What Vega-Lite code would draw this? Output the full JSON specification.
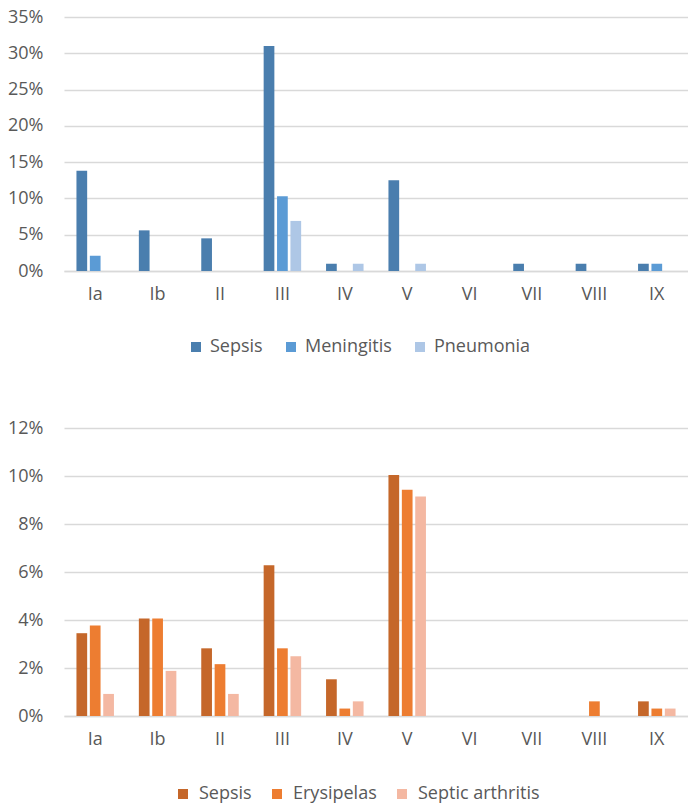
{
  "$schema": "https://vega.github.io/schema/vega-lite/v6.json",
  "background": "white",
  "padding": {"left": 7, "top": 8, "right": 0, "bottom": 0},
  "spacing": 63,
  "datasets": {
    "invasive": [
      {"serotype": "Ia", "disease": "Sepsis", "pct": 13.8},
      {"serotype": "Ia", "disease": "Meningitis", "pct": 2.1},
      {"serotype": "Ia", "disease": "Pneumonia", "pct": 0},
      {"serotype": "Ib", "disease": "Sepsis", "pct": 5.6},
      {"serotype": "Ib", "disease": "Meningitis", "pct": 0},
      {"serotype": "Ib", "disease": "Pneumonia", "pct": 0},
      {"serotype": "II", "disease": "Sepsis", "pct": 4.5},
      {"serotype": "II", "disease": "Meningitis", "pct": 0},
      {"serotype": "II", "disease": "Pneumonia", "pct": 0},
      {"serotype": "III", "disease": "Sepsis", "pct": 31.0},
      {"serotype": "III", "disease": "Meningitis", "pct": 10.3},
      {"serotype": "III", "disease": "Pneumonia", "pct": 6.9},
      {"serotype": "IV", "disease": "Sepsis", "pct": 1.0},
      {"serotype": "IV", "disease": "Meningitis", "pct": 0},
      {"serotype": "IV", "disease": "Pneumonia", "pct": 1.0},
      {"serotype": "V", "disease": "Sepsis", "pct": 12.5},
      {"serotype": "V", "disease": "Meningitis", "pct": 0},
      {"serotype": "V", "disease": "Pneumonia", "pct": 1.0},
      {"serotype": "VI", "disease": "Sepsis", "pct": 0},
      {"serotype": "VI", "disease": "Meningitis", "pct": 0},
      {"serotype": "VI", "disease": "Pneumonia", "pct": 0},
      {"serotype": "VII", "disease": "Sepsis", "pct": 1.0},
      {"serotype": "VII", "disease": "Meningitis", "pct": 0},
      {"serotype": "VII", "disease": "Pneumonia", "pct": 0},
      {"serotype": "VIII", "disease": "Sepsis", "pct": 1.0},
      {"serotype": "VIII", "disease": "Meningitis", "pct": 0},
      {"serotype": "VIII", "disease": "Pneumonia", "pct": 0},
      {"serotype": "IX", "disease": "Sepsis", "pct": 1.0},
      {"serotype": "IX", "disease": "Meningitis", "pct": 1.0},
      {"serotype": "IX", "disease": "Pneumonia", "pct": 0}
    ],
    "skin": [
      {"serotype": "Ia", "disease": "Sepsis", "pct": 3.45},
      {"serotype": "Ia", "disease": "Erysipelas", "pct": 3.77},
      {"serotype": "Ia", "disease": "Septic arthritis", "pct": 0.92},
      {"serotype": "Ib", "disease": "Sepsis", "pct": 4.06},
      {"serotype": "Ib", "disease": "Erysipelas", "pct": 4.06},
      {"serotype": "Ib", "disease": "Septic arthritis", "pct": 1.88},
      {"serotype": "II", "disease": "Sepsis", "pct": 2.82},
      {"serotype": "II", "disease": "Erysipelas", "pct": 2.16},
      {"serotype": "II", "disease": "Septic arthritis", "pct": 0.92},
      {"serotype": "III", "disease": "Sepsis", "pct": 6.28},
      {"serotype": "III", "disease": "Erysipelas", "pct": 2.82},
      {"serotype": "III", "disease": "Septic arthritis", "pct": 2.49},
      {"serotype": "IV", "disease": "Sepsis", "pct": 1.53},
      {"serotype": "IV", "disease": "Erysipelas", "pct": 0.31},
      {"serotype": "IV", "disease": "Septic arthritis", "pct": 0.61},
      {"serotype": "V", "disease": "Sepsis", "pct": 10.04},
      {"serotype": "V", "disease": "Erysipelas", "pct": 9.43},
      {"serotype": "V", "disease": "Septic arthritis", "pct": 9.15},
      {"serotype": "VI", "disease": "Sepsis", "pct": 0},
      {"serotype": "VI", "disease": "Erysipelas", "pct": 0},
      {"serotype": "VI", "disease": "Septic arthritis", "pct": 0},
      {"serotype": "VII", "disease": "Sepsis", "pct": 0},
      {"serotype": "VII", "disease": "Erysipelas", "pct": 0},
      {"serotype": "VII", "disease": "Septic arthritis", "pct": 0},
      {"serotype": "VIII", "disease": "Sepsis", "pct": 0},
      {"serotype": "VIII", "disease": "Erysipelas", "pct": 0.61},
      {"serotype": "VIII", "disease": "Septic arthritis", "pct": 0},
      {"serotype": "IX", "disease": "Sepsis", "pct": 0.61},
      {"serotype": "IX", "disease": "Erysipelas", "pct": 0.31},
      {"serotype": "IX", "disease": "Septic arthritis", "pct": 0.31}
    ]
  },
  "vconcat": [
    {
      "width": 624,
      "height": 254,
      "data": {"name": "invasive"},
      "mark": {"type": "bar"},
      "encoding": {
        "x": {
          "field": "serotype",
          "type": "nominal",
          "sort": ["Ia", "Ib", "II", "III", "IV", "V", "VI", "VII", "VIII", "IX"],
          "scale": {"paddingInner": 0, "paddingOuter": 0},
          "axis": {"title": null, "labelAngle": 0, "ticks": false, "labelPadding": 14, "domainColor": "#D9D9D9", "domainWidth": 1.5}
        },
        "xOffset": {
          "field": "disease",
          "type": "nominal",
          "sort": ["Sepsis", "Meningitis", "Pneumonia"],
          "scale": {"domain": ["Sepsis", "Meningitis", "Pneumonia"], "paddingInner": 0.2, "paddingOuter": 0.93}
        },
        "y": {
          "field": "pct",
          "type": "quantitative",
          "scale": {"domain": [0, 35]},
          "axis": {"title": null, "values": [0, 5, 10, 15, 20, 25, 30, 35], "labelExpr": "datum.value + '%'", "domain": false, "ticks": false, "labelPadding": 21}
        },
        "color": {
          "field": "disease",
          "type": "nominal",
          "sort": ["Sepsis", "Meningitis", "Pneumonia"],
          "scale": {"domain": ["Sepsis", "Meningitis", "Pneumonia"], "range": ["#4A7EAE", "#5B9BD5", "#AEC7E6"]},
          "legend": {"title": null, "orient": "none", "direction": "horizontal", "legendX": 123, "legendY": 321, "labelOffset": 5, "columnPadding": 19}
        }
      }
    },
    {
      "width": 624,
      "height": 288,
      "data": {"name": "skin"},
      "mark": {"type": "bar"},
      "encoding": {
        "x": {
          "field": "serotype",
          "type": "nominal",
          "sort": ["Ia", "Ib", "II", "III", "IV", "V", "VI", "VII", "VIII", "IX"],
          "scale": {"paddingInner": 0, "paddingOuter": 0},
          "axis": {"title": null, "labelAngle": 0, "ticks": false, "labelPadding": 14, "domainColor": "#D9D9D9", "domainWidth": 1.5}
        },
        "xOffset": {
          "field": "disease",
          "type": "nominal",
          "sort": ["Sepsis", "Erysipelas", "Septic arthritis"],
          "scale": {"domain": ["Sepsis", "Erysipelas", "Septic arthritis"], "paddingInner": 0.2, "paddingOuter": 0.93}
        },
        "y": {
          "field": "pct",
          "type": "quantitative",
          "scale": {"domain": [0, 12]},
          "axis": {"title": null, "values": [0, 2, 4, 6, 8, 10, 12], "labelExpr": "datum.value + '%'", "domain": false, "ticks": false, "labelPadding": 21}
        },
        "color": {
          "field": "disease",
          "type": "nominal",
          "sort": ["Sepsis", "Erysipelas", "Septic arthritis"],
          "scale": {"domain": ["Sepsis", "Erysipelas", "Septic arthritis"], "range": ["#C5672A", "#ED7D31", "#F4B8A2"]},
          "legend": {"title": null, "orient": "none", "direction": "horizontal", "legendX": 110, "legendY": 357, "labelOffset": 7, "columnPadding": 16}
        }
      }
    }
  ],
  "resolve": {"scale": {"color": "independent", "xOffset": "independent", "x": "independent", "y": "independent"}},
  "config": {
    "font": "Open Sans",
    "view": {"stroke": null},
    "axis": {
      "labelFont": "Open Sans",
      "labelFontSize": 18,
      "labelColor": "#595959",
      "gridColor": "#D9D9D9",
      "gridWidth": 1.5
    },
    "legend": {
      "labelFont": "Open Sans",
      "labelFontSize": 18,
      "labelColor": "#595959",
      "symbolType": "square",
      "symbolSize": 100,
      "symbolStrokeWidth": 0
    }
  }
}
